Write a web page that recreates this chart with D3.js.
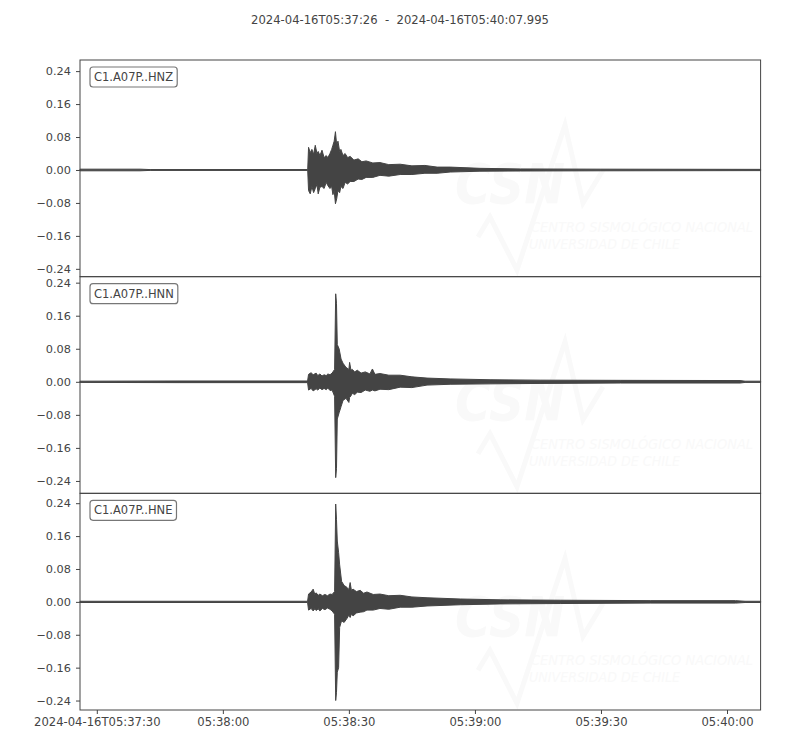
<!DOCTYPE html>
<html>
<head>
<meta charset="utf-8">
<script src="https://cdn.jsdelivr.net/npm/d3@7"></script>
<style>
  body { margin: 0; background: #fff; }
  text { font-family: "DejaVu Sans", sans-serif; }
</style>
</head>
<body>
<div id="chart"></div>
<script>
// Trace ids, one per panel
const channels = ["C1.A07P..HNZ", "C1.A07P..HNN", "C1.A07P..HNE"];

const startTime = new Date("2024-04-16T05:37:26.000Z");
const endTime = new Date("2024-04-16T05:40:07.995Z");

// y-limits of each panel (m/s^2)
const yLimits = [[-0.259, 0.267], [-0.270, 0.2545], [-0.263, 0.264]];
const yTicks = [-0.24, -0.16, -0.08, 0, 0.08, 0.16, 0.24];

// Envelopes: [seconds after start, upper, lower]
const hnzEnvelope = [
    [0, 0.002, -0.002], [14.3, 0.002, -0.002], [16.7, 0.001, -0.001], [54.2, 0.001, -0.001],
    [54.4, 0.055, -0.05], [54.8, 0.042, -0.058], [55.2, 0.05, -0.04], [55.6, 0.038, -0.055],
    [56.0, 0.06, -0.045], [56.4, 0.04, -0.035], [56.7, 0.045, -0.058], [57.1, 0.035, -0.042],
    [57.6, 0.048, -0.04], [58.1, 0.03, -0.045], [58.6, 0.035, -0.03], [59.0, 0.03, -0.038],
    [59.5, 0.04, -0.045], [59.9, 0.05, -0.04], [60.2, 0.06, -0.06], [60.5, 0.07, -0.05],
    [60.8, 0.093, -0.082], [61.1, 0.06, -0.07], [61.4, 0.07, -0.05], [61.8, 0.045, -0.055],
    [62.1, 0.05, -0.04], [62.6, 0.035, -0.045], [63.1, 0.04, -0.03], [63.7, 0.03, -0.034],
    [64.3, 0.033, -0.028], [65.2, 0.024, -0.028], [66.2, 0.027, -0.022], [67.1, 0.02, -0.023],
    [68.1, 0.022, -0.018], [69.7, 0.017, -0.018], [71.4, 0.018, -0.013], [73.5, 0.013, -0.015],
    [76.2, 0.014, -0.011], [79.0, 0.01, -0.011], [82.1, 0.011, -0.008], [85.0, 0.007, -0.008],
    [88.1, 0.007, -0.005], [95.2, 0.004, -0.003], [104.8, 0.0025, -0.0025],
    [123.8, 0.002, -0.002], [162, 0.0015, -0.0015]
];
const hnnEnvelope = [
    [0, 0.0015, -0.0015], [23.8, 0.002, -0.002], [54.17, 0.002, -0.002],
    [54.4, 0.018, -0.02], [55.0, 0.022, -0.016], [55.5, 0.017, -0.022], [56.2, 0.021, -0.017],
    [56.6, 0.015, -0.02], [57.1, 0.019, -0.015], [57.6, 0.014, -0.019], [58.1, 0.017, -0.016],
    [58.6, 0.015, -0.019], [59.0, 0.019, -0.015], [59.5, 0.017, -0.021], [60.0, 0.021, -0.02],
    [60.6, 0.03, -0.035], [60.86, 0.213, -0.232], [61.05, 0.19, -0.21], [61.24, 0.09, -0.09],
    [61.67, 0.08, -0.075], [62.14, 0.055, -0.06], [62.6, 0.045, -0.045], [63.3, 0.035, -0.04],
    [64.0, 0.03, -0.05], [64.17, 0.047, -0.038], [64.5, 0.028, -0.034], [64.8, 0.03, -0.028],
    [65.4, 0.024, -0.031], [66.0, 0.028, -0.025], [66.9, 0.021, -0.026], [67.9, 0.024, -0.02],
    [69.0, 0.019, -0.023], [69.6, 0.031, -0.02], [70.2, 0.018, -0.022], [71.4, 0.02, -0.018],
    [73.5, 0.016, -0.019], [76.2, 0.016, -0.013], [79.0, 0.012, -0.014], [82.6, 0.009, -0.008],
    [88.1, 0.007, -0.006], [97.6, 0.005, -0.005], [109.5, 0.004, -0.004], [128.6, 0.0035, -0.003],
    [157.1, 0.003, -0.003], [158.3, 0.0015, -0.0015], [162, 0.0015, -0.0015]
];
const hneEnvelope = [
    [0, 0.0015, -0.0015], [54.17, 0.0015, -0.0015],
    [54.4, 0.019, -0.02], [55.0, 0.024, -0.016], [55.5, 0.031, -0.022], [55.9, 0.018, -0.017],
    [56.2, 0.022, -0.021], [56.7, 0.016, -0.017], [57.1, 0.019, -0.022], [57.7, 0.015, -0.016],
    [58.3, 0.018, -0.019], [58.9, 0.015, -0.015], [59.5, 0.019, -0.018], [60.0, 0.018, -0.022],
    [60.6, 0.025, -0.03], [60.86, 0.238, -0.24], [61.05, 0.2, -0.22], [61.24, 0.148, -0.171],
    [61.55, 0.12, -0.16], [61.8, 0.09, -0.062], [62.26, 0.05, -0.046], [62.86, 0.04, -0.05],
    [63.57, 0.035, -0.04], [64.0, 0.03, -0.032], [64.3, 0.047, -0.038], [64.6, 0.028, -0.03],
    [65.0, 0.031, -0.034], [65.8, 0.025, -0.027], [66.7, 0.028, -0.025], [67.5, 0.021, -0.024],
    [68.3, 0.024, -0.02], [69.8, 0.018, -0.02], [71.4, 0.019, -0.016], [73.5, 0.015, -0.018],
    [76.2, 0.016, -0.013], [79.0, 0.012, -0.013], [82.6, 0.01, -0.01], [90.5, 0.007, -0.007],
    [100, 0.005, -0.005], [114.3, 0.004, -0.004], [135.7, 0.003, -0.003], [156, 0.003, -0.003],
    [158.3, 0.0015, -0.0015], [162, 0.0015, -0.0015]
];
const envelopes = [hnzEnvelope, hnnEnvelope, hneEnvelope];

const width = 800, height = 750;
const margin = { top: 60, right: 39.4, bottom: 40, left: 80 };
const panelHeight = (height - margin.top - margin.bottom) / channels.length;
const ink = "#444";
const faint = "#f9f9f9";

const svg = d3.select("#chart")
    .append("svg")
    .attr("width", width)
    .attr("height", height);

const x = d3.scaleUtc()
    .domain([startTime, endTime])
    .range([margin.left, width - margin.right]);

const toDate = s => new Date(startTime.getTime() + s * 1000);
const fmtY = d => d3.format(".2f")(d).replace("-", "\u2212");

// Title
svg.append("text")
    .attr("x", width / 2)
    .attr("y", 24)
    .attr("text-anchor", "middle")
    .attr("fill", ink)
    .style("font-size", "11.6px")
    .style("white-space", "pre")
    .text("2024-04-16T05:37:26  -  2024-04-16T05:40:07.995");

channels.forEach((name, i) => {
    const top = margin.top + i * panelHeight;
    const y = d3.scaleLinear()
        .domain(yLimits[i])
        .range([top + panelHeight, top]);

    const g = svg.append("g");

    // faint CSN watermark
    const wm = g.append("g")
        .attr("transform", `translate(0,${top - margin.top})`)
        .attr("fill", faint);
    wm.append("path")
        .attr("d", "M478,237 L490,217 L517,270 L565,125 L583,203 L603,170")
        .attr("fill", "none")
        .attr("stroke", faint)
        .attr("stroke-width", 5);
    wm.append("text")
        .attr("x", 455).attr("y", 203)
        .style("font-size", "56px").style("font-weight", "bold").style("font-style", "italic")
        .attr("textLength", 110).attr("lengthAdjust", "spacingAndGlyphs")
        .text("CSN");
    wm.append("text")
        .attr("x", 531).attr("y", 232)
        .style("font-size", "14px").style("font-style", "italic")
        .attr("textLength", 222).attr("lengthAdjust", "spacingAndGlyphs")
        .text("CENTRO SISMOLÓGICO NACIONAL");
    wm.append("text")
        .attr("x", 529).attr("y", 249)
        .style("font-size", "14px").style("font-style", "italic")
        .attr("textLength", 151).attr("lengthAdjust", "spacingAndGlyphs")
        .text("UNIVERSIDAD DE CHILE");

    // waveform envelope
    const area = d3.area()
        .x(d => x(toDate(d[0])))
        .y0(d => y(d[2]))
        .y1(d => y(d[1]));
    g.append("path")
        .datum(envelopes[i])
        .attr("d", area)
        .attr("fill", ink)
        .attr("stroke", ink)
        .attr("stroke-width", 1)
        .attr("stroke-linejoin", "round");

    // y axis
    const yAxis = g.append("g")
        .attr("transform", `translate(${margin.left},0)`)
        .call(d3.axisLeft(y).tickValues(yTicks).tickFormat(fmtY).tickSize(4).tickPadding(5));
    yAxis.select(".domain").remove();
    yAxis.selectAll("line").attr("stroke", ink);
    yAxis.selectAll("text").attr("fill", ink).style("font-size", "11.3px").style("font-family", "DejaVu Sans");

    // frame
    g.append("rect")
        .attr("x", margin.left)
        .attr("y", top)
        .attr("width", width - margin.right - margin.left)
        .attr("height", panelHeight)
        .attr("fill", "none")
        .attr("stroke", ink)
        .attr("stroke-width", 1);

    // trace label in a rounded box
    const box = g.append("rect");
    const label = g.append("text")
        .attr("x", 94)
        .attr("y", top + 21)
        .attr("fill", ink)
        .style("font-size", "11.5px")
        .text(name);
    const bb = label.node().getBBox();
    box.attr("x", bb.x - 4)
        .attr("y", top + 7)
        .attr("width", bb.width + 8)
        .attr("height", 20)
        .attr("rx", 3)
        .attr("fill", "#fff")
        .attr("stroke", "#777")
        .attr("stroke-width", 1.2);
});

// shared time axis on the bottom panel
const xTicks = d3.utcSecond.every(30).range(startTime, endTime);
const xAxis = svg.append("g")
    .attr("transform", `translate(0,${height - margin.bottom})`)
    .call(d3.axisBottom(x)
        .tickValues(xTicks)
        .tickSize(4)
        .tickPadding(4)
        .tickFormat((d, i) => i === 0 ? d3.utcFormat("%Y-%m-%dT%H:%M:%S")(d) : d3.utcFormat("%H:%M:%S")(d)));
xAxis.select(".domain").remove();
xAxis.selectAll("line").attr("stroke", ink);
xAxis.selectAll("text").attr("fill", ink).style("font-size", "11.6px").style("font-family", "DejaVu Sans");
</script>
</body>
</html>
